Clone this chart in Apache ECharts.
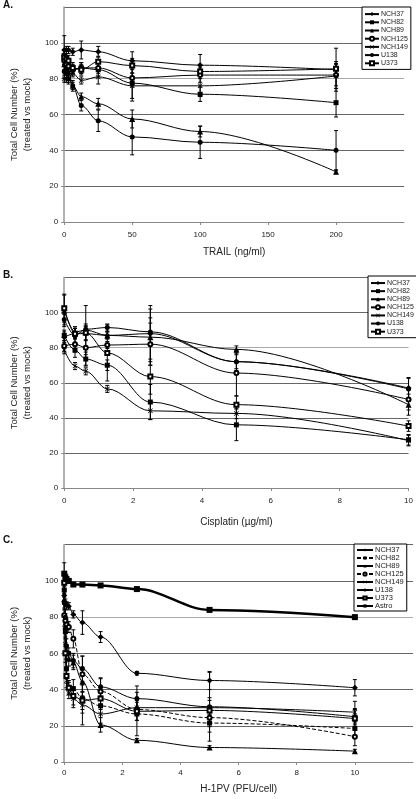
<!DOCTYPE html>
<html><head><meta charset="utf-8">
<script src="https://cdn.jsdelivr.net/npm/echarts@6/dist/echarts.min.js"></script>
<style>html,body{margin:0;padding:0;background:#fff;width:416px;height:799px;overflow:hidden}
.p{position:absolute;left:0;width:416px}</style>
</head><body>
<div id="a" class="p" style="top:0;height:262px"></div>
<div id="b" class="p" style="top:262px;height:270px"></div>
<div id="c" class="p" style="top:532px;height:267px"></div>
<script>
// ---------- Panel A: TRAIL ----------
const aDose = [0, 1.5625, 3.125, 6.25, 12.5, 25, 50, 100, 200];
const aNCH37  = [96, 96, 96, 95, 96, 95, 90, 87.5, 85];
const aNCH82  = [93, 90, 87, 85, 86, 85, 77.5, 71.3, 66.6];
const aNCH89  = [88, 86, 84, 76, 70, 66, 57.5, 50.5, 28];
const aNCH125 = [90, 88, 87, 85, 86, 86, 80.4, 82, 82];
const aNCH149 = [80, 80, 80, 83, 79, 81, 76, 76, 81.5];
const aU138   = [84, 83, 80, 76, 65, 56.5, 47.5, 44.5, 40];
const aU373   = [92, 91, 90, 86, 85, 89.5, 87.3, 84, 85.5];
const aErrNCH37  = [8, 2, 2, 2, 5, 3, 5, 6, 12];
const aErrNCH82  = [3, 3, 3, 3, 3, 4, 10, 4, 8];
const aErrNCH89  = [3, 2, 2, 2, 2, 3, 5, 3, 1];
const aErrNCH125 = [3, 2, 2, 2, 3, 3, 5, 4, 6];
const aErrNCH149 = [2, 2, 2, 2, 2, 4, 7, 6, 7];
const aErrU138   = [4, 3, 3, 3, 3, 6, 10, 9, 11];
const aErrU373   = [4, 3, 3, 3, 3, 3, 4, 4, 4];
const aXTicks = [0, 50, 100, 150, 200];

// ---------- Panel B: Cisplatin ----------
const bDose = [0, 0.3125, 0.625, 1.25, 2.5, 5, 10];
const bNCH37  = [86, 88, 88, 87, 88, 72, 57];
const bNCH82  = [87, 78.5, 73.5, 70, 49, 36, 27.5];
const bNCH89  = [101, 89, 90, 87, 86, 79, 47.5];
const bNCH125 = [81, 82, 80, 81.5, 82, 65.5, 50.5];
const bNCH149 = [78.5, 69.5, 66.5, 56.5, 44, 42.5, 27];
const bU138   = [96, 87, 90.5, 91.5, 89, 72, 56.5];
const bU373   = [102.5, 88, 88.5, 77, 63.5, 47.5, 35.3];
const bErrNCH37  = [3, 3, 4, 2, 16, 4, 6];
const bErrNCH82  = [3, 4, 4, 3, 10, 9, 3];
const bErrNCH89  = [9, 3, 14, 2, 16, 2, 6];
const bErrNCH125 = [3, 4, 10, 2, 12, 13, 6];
const bErrNCH149 = [2, 2, 2, 2, 5, 3, 3];
const bErrU138   = [3, 4, 3, 2, 8, 5, 6];
const bErrU373   = [8, 3, 4, 16, 10, 5, 3];
const bXTicks = [0, 2, 4, 6, 8, 10];

// ---------- Panel C: H-1PV ----------
const cDose = [0, 0.039, 0.078, 0.156, 0.3125, 0.625, 1.25, 2.5, 5, 10];
const cNCH37  = [92, 88, 86.5, 86, 81.5, 77, 69, 49, 45, 41];
const cNCH82  = [95, 72, 51.5, 41, 40.5, 35, 31, 26.5, 21.5, 18.5];
const cNCH89  = [90, 75, 61, 57, 55, 44.5, 20.5, 12, 8, 6];
const cNCH125 = [81, 78, 76, 74.5, 68, 48.5, 39, 29, 24.5, 14];
const cNCH149 = [93, 65, 45, 38, 35, 31.5, 26.5, 30, 30, 27.5];
const cU138   = [88, 80, 64, 60, 56, 51.5, 41.5, 35, 30.5, 25];
const cU373   = [99, 60, 47.5, 41, 36.5, 34, 35, 28, 28.5, 24];
const cAstro  = [104, 102, 101, 100, 98, 98, 97.5, 95.5, 84, 80];
const cErrNCH37  = [3, 2, 2, 2, 2, 6.5, 3, 1, 5, 4.5];
const cErrNCH82  = [4, 4, 5, 4, 5, 8, 10, 12, 5, 4];
const cErrNCH89  = [5, 4, 4, 4, 4, 8, 4, 1, 1, 1];
const cErrNCH125 = [6, 4, 3, 3, 5, 10, 7, 6, 5, 5];
const cErrNCH149 = [4, 4, 4, 3, 5, 11, 5, 4, 4, 6];
const cErrU138   = [4, 4, 4, 3, 4, 7, 5, 7, 19, 4.5];
const cErrU373   = [6, 5, 4, 3, 5, 5, 6, 5, 7, 5];
const cErrAstro  = [6, 2, 1, 1, 1, 1, 1, 1, 1, 1];
const cXTicks = [0, 2, 4, 6, 8, 10];

const yTicks = [0, 20, 40, 60, 80, 100];
const yTitle = 'Total Cell Number (%)\n(treated vs mock)';

// ---------- rendering ----------
const FONT = '"Liberation Sans", Arial, sans-serif';
const XSYM = 'path://M0,1 L1,0 L5,4 L9,0 L10,1 L6,5 L10,9 L9,10 L5,6 L1,10 L0,9 L4,5 Z';
const SYM = {NCH37:['diamond',6], NCH82:['rect',5], NCH89:['triangle',6], NCH125:['emptyCircle',4],
             NCH149:[XSYM,5], U138:['circle',5], U373:['emptyRect',4], Astro:['rect',6]};

function lineSeries(name, dose, vals, opts) {
  opts = opts || {};
  return {
    type:'line', name:name, data:dose.map((d,i)=>[d, vals[i]]),
    symbol:SYM[name][0], symbolSize:SYM[name][1], smooth:0.35, smoothMonotone:'x',
    itemStyle:{color:'#000', borderColor:'#000', borderWidth: SYM[name][0].indexOf('empty')===0?1:0},
    lineStyle:{color:'#000', width:opts.width||1, type:opts.dash?[4,2]:'solid'},
    z:3, animation:false
  };
}
function errSeries(dose, vals, errs) {
  return {
    type:'custom', silent:true, z:2, animation:false,
    encode:{x:0, y:[1,2]},
    data:dose.map((d,i)=>[d, vals[i]-errs[i], vals[i]+errs[i]]),
    renderItem:function(params, api){
      const x = api.value(0);
      const p1 = api.coord([x, api.value(2)]), p2 = api.coord([x, api.value(1)]);
      const w = 2, st = {stroke:'#000', lineWidth:1};
      return {type:'group', children:[
        {type:'line', shape:{x1:p1[0],y1:p1[1],x2:p2[0],y2:p2[1]}, style:st},
        {type:'line', shape:{x1:p1[0]-w,y1:p1[1],x2:p1[0]+w,y2:p1[1]}, style:st},
        {type:'line', shape:{x1:p2[0]-w,y1:p2[1],x2:p2[0]+w,y2:p2[1]}, style:st}
      ]};
    }
  };
}

function makeOption(cfg) {
  const series = [];
  cfg.sets.forEach(s => { series.push(errSeries(cfg.dose, s.v, s.e)); });
  cfg.sets.forEach(s => { series.push(lineSeries(s.name, cfg.dose, s.v, s)); });
  return {
    animation:false,
    textStyle:{fontFamily:FONT},
    graphic:[{type:'text', left:3, top:cfg.letterTop, style:{text:cfg.letter, font:'bold 10px '+FONT, fill:'#111'}}],
    grid:{left:cfg.grid[0], top:cfg.grid[1], width:cfg.grid[2], height:cfg.grid[3], containLabel:false},
    legend:{
      orient:'vertical', left:cfg.legend[0], top:cfg.legend[1],
      data:cfg.sets.map(s=>s.name),
      backgroundColor:'#fff', borderColor:'#000', borderWidth:1,
      padding:cfg.legendPad, itemGap:0, itemWidth:cfg.legendIconW, itemHeight:cfg.legendIconH,
      textStyle:{fontSize:cfg.legendFont, color:'#222', lineHeight:cfg.legendLine, fontFamily:FONT, padding:[0,0,0,-3]},
      selectedMode:false
    },
    xAxis:{
      type:'value', min:0, max:cfg.xMax, interval:cfg.xInt,
      name:cfg.xTitle, nameLocation:'middle', nameGap:cfg.xNameGap,
      nameTextStyle:{fontSize:10, color:'#222', fontFamily:FONT},
      axisLine:{show:true, onZero:false, lineStyle:{color:'#888', width:1}},
      axisTick:{show:true, length:3, lineStyle:{color:'#888'}},
      axisLabel:{fontSize:8, color:'#222', margin:cfg.xLabelMargin, showMaxLabel:cfg.showXMax,
        formatter:v=>cfg.xTicks.indexOf(v)>=0?String(v):''},
      splitLine:{show:false}
    },
    yAxis:{
      type:'value', min:0, max:120, interval:20,
      name:yTitle, nameLocation:'middle', nameGap:cfg.yNameGap, nameRotate:90,
      nameTextStyle:{fontSize:9.5, color:'#222', lineHeight:13, fontFamily:FONT, align:'center'},
      axisLine:{show:true, lineStyle:{color:'#999', width:1.5}},
      axisTick:{show:true, length:3, lineStyle:{color:'#888'}},
      axisLabel:{fontSize:8, color:'#222', margin:6, showMaxLabel:false,
        formatter:v=>yTicks.indexOf(v)>=0?String(v):''},
      splitLine:{show:true, lineStyle:{color:['#666','#666','#666','#666','#aaa','#666','#666'], width:1}}
    },
    series:series
  };
}

const optA = makeOption({
  letter:'A.', letterTop:0, grid:[48,7,356,215], legend:[362,7], legendPad:[3,3,2,2], legendIconW:14, legendIconH:5,
  legendFont:7, legendLine:8.2,
  xMax:250, xInt:50, xTicks:aXTicks, showXMax:false, xTitle:'TRAIL (ng/ml)', xNameGap:25, xLabelMargin:9, yNameGap:23,
  dose:aDose,
  sets:[{name:'NCH37',v:aNCH37,e:aErrNCH37},{name:'NCH82',v:aNCH82,e:aErrNCH82},{name:'NCH89',v:aNCH89,e:aErrNCH89},
        {name:'NCH125',v:aNCH125,e:aErrNCH125},{name:'NCH149',v:aNCH149,e:aErrNCH149},{name:'U138',v:aU138,e:aErrU138},
        {name:'U373',v:aU373,e:aErrU373}]
});
const optB = makeOption({
  letter:'B.', letterTop:8, grid:[48,15.5,362,212], legend:[368,14], legendPad:[3,3,2,2], legendIconW:14, legendIconH:5,
  legendFont:7, legendLine:8.1,
  xMax:10, xInt:2, xTicks:bXTicks, showXMax:true, xTitle:'Cisplatin (µg/ml)', xNameGap:29, xLabelMargin:9, yNameGap:23,
  dose:bDose,
  sets:[{name:'NCH37',v:bNCH37,e:bErrNCH37},{name:'NCH82',v:bNCH82,e:bErrNCH82},{name:'NCH89',v:bNCH89,e:bErrNCH89},
        {name:'NCH125',v:bNCH125,e:bErrNCH125},{name:'NCH149',v:bNCH149,e:bErrNCH149},{name:'U138',v:bU138,e:bErrU138},
        {name:'U373',v:bU373,e:bErrU373}]
});
const optC = makeOption({
  letter:'C.', letterTop:3, grid:[55,12.7,358,220], legend:[354,12], legendPad:[2,3,1,2], legendIconW:16, legendIconH:4,
  legendFont:7.5, legendLine:5.9,
  xMax:12, xInt:2, xTicks:cXTicks, showXMax:false, xTitle:'H-1PV (PFU/cell)', xNameGap:22, xLabelMargin:7, yNameGap:26,
  dose:cDose,
  sets:[{name:'NCH37',v:cNCH37,e:cErrNCH37},{name:'NCH82',v:cNCH82,e:cErrNCH82,dash:true},{name:'NCH89',v:cNCH89,e:cErrNCH89},
        {name:'NCH125',v:cNCH125,e:cErrNCH125,dash:true},{name:'NCH149',v:cNCH149,e:cErrNCH149},{name:'U138',v:cU138,e:cErrU138},
        {name:'U373',v:cU373,e:cErrU373},{name:'Astro',v:cAstro,e:cErrAstro,width:2.5}]
});

echarts.init(document.getElementById('a'), null, {renderer:'canvas'}).setOption(optA);
echarts.init(document.getElementById('b'), null, {renderer:'canvas'}).setOption(optB);
echarts.init(document.getElementById('c'), null, {renderer:'canvas'}).setOption(optC);
</script>
</body></html>
